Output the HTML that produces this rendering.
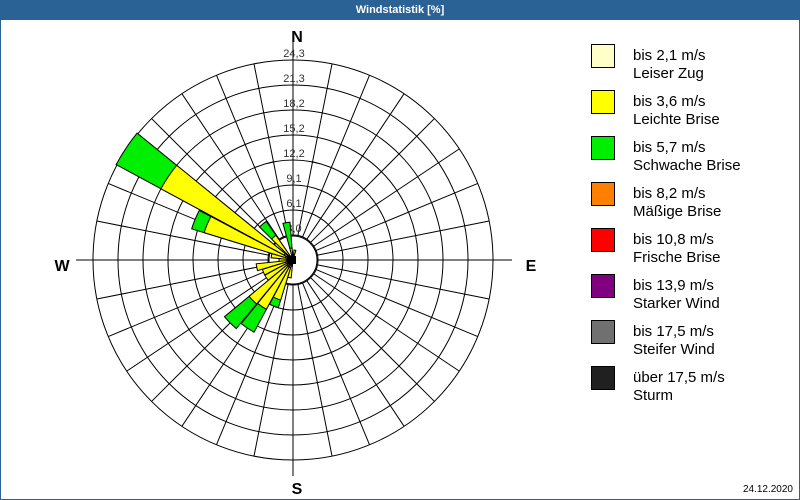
<!DOCTYPE html>
<html><head><meta charset="utf-8"><style>
body{margin:0;background:#fff;}
#w{position:relative;width:798px;height:498px;border:1px solid #2a6296;overflow:hidden;font-family:"Liberation Sans",sans-serif;}
#t{height:19px;background:#2a6296;color:#fff;font:bold 11px "Liberation Sans",sans-serif;text-align:center;line-height:19px;}
.lg{position:absolute;left:590px;width:22px;height:22px;border:1px solid #000;}
.lt{position:absolute;left:632px;font-size:15px;line-height:18px;color:#000;}
</style></head><body><div id="w"><div id="t">Windstatistik [%]</div>
<svg id="s" width="800" height="500" style="position:absolute;left:-1px;top:-1px" xmlns="http://www.w3.org/2000/svg"></svg>
<div class="lg" style="top:43px;background:#ffffc8"></div><div class="lt" style="top:46px">bis 2,1 m/s<br>Leiser Zug</div>
<div class="lg" style="top:89px;background:#ffff00"></div><div class="lt" style="top:92px">bis 3,6 m/s<br>Leichte Brise</div>
<div class="lg" style="top:135px;background:#00ee00"></div><div class="lt" style="top:138px">bis 5,7 m/s<br>Schwache Brise</div>
<div class="lg" style="top:181px;background:#ff8000"></div><div class="lt" style="top:184px">bis 8,2 m/s<br>Mäßige Brise</div>
<div class="lg" style="top:227px;background:#ff0000"></div><div class="lt" style="top:230px">bis 10,8 m/s<br>Frische Brise</div>
<div class="lg" style="top:273px;background:#800080"></div><div class="lt" style="top:276px">bis 13,9 m/s<br>Starker Wind</div>
<div class="lg" style="top:319px;background:#707070"></div><div class="lt" style="top:322px">bis 17,5 m/s<br>Steifer Wind</div>
<div class="lg" style="top:365px;background:#202020"></div><div class="lt" style="top:368px">über 17,5 m/s<br>Sturm</div>
<div style="position:absolute;right:6px;bottom:4px;font-size:10px">24.12.2020</div>
</div>
<script>
var s=document.getElementById('s'),cx=293,cy=260,h='';
function P(r,b){var a=b*Math.PI/180;return [cx+r*Math.sin(a),cy-r*Math.cos(a)];}
for(var k=1;k<=8;k++)h+='<circle cx="'+cx+'" cy="'+cy+'" r="'+(25*k)+'" fill="none" stroke="#000"/>';
for(var b=0;b<360;b+=11.25){var p=P(25,b),q=P(200,b);h+='<line x1="'+p[0]+'" y1="'+p[1]+'" x2="'+q[0]+'" y2="'+q[1]+'" stroke="#000"/>';}
h+='<line x1="'+cx+'" y1="42" x2="'+cx+'" y2="476" stroke="#000"/><line x1="76" y1="'+cy+'" x2="512" y2="'+cy+'" stroke="#000"/>';
h+='<circle cx="'+cx+'" cy="'+cy+'" r="24" fill="#fff" stroke="#000"/>';
var L=['3,0','6,1','9,1','12,2','15,2','18,2','21,3','24,3'];
for(var k=0;k<8;k++)h+='<text x="'+(cx+1)+'" y="'+(cy-25*(k+1)-3)+'" font-size="11" text-anchor="middle" fill="#333" font-family="Liberation Sans">'+L[k]+'</text>';
function W(b0,b1,r,c){var p=P(r,b0),q=P(r,b1);return '<path d="M'+cx+' '+cy+'L'+p[0]+' '+p[1]+'A'+r+' '+r+' 0 0 1 '+q[0]+' '+q[1]+'Z" fill="'+c+'" stroke="#000" stroke-width="1"/>';}
var D=[[350,5,12,38],[320,6,30,47],[303.75,10,150,201],[292.5,8,93,106],[281.25,6,22,0],[270,6,14,0],[258.75,6,37,0],[247.5,6,32,0],[236.25,6,32,0],[225,8,57,89],[213.75,8,56,82],[202.5,8,42,50],[191.25,6,18,0],[11.25,4,10,0]];
D.forEach(function(d){var b0=d[0]-5.4,b1=d[0]+5.4;if(d[3])h+=W(b0,b1,d[3],'#00ee00');if(d[2])h+=W(b0,b1,d[2],'#ffff00');h+=W(b0,b1,d[1],'#ffffc8');});
h+='<rect x="'+(cx-3)+'" y="'+(cy-4)+'" width="6" height="8" fill="#000"/>';
h+='<text x="297" y="42" font-size="16" font-weight="bold" text-anchor="middle" font-family="Liberation Sans">N</text>';
h+='<text x="297" y="494" font-size="16" font-weight="bold" text-anchor="middle" font-family="Liberation Sans">S</text>';
h+='<text x="62" y="271" font-size="16" font-weight="bold" text-anchor="middle" font-family="Liberation Sans">W</text>';
h+='<text x="531" y="271" font-size="16" font-weight="bold" text-anchor="middle" font-family="Liberation Sans">E</text>';
s.innerHTML=h;
</script></body></html>
